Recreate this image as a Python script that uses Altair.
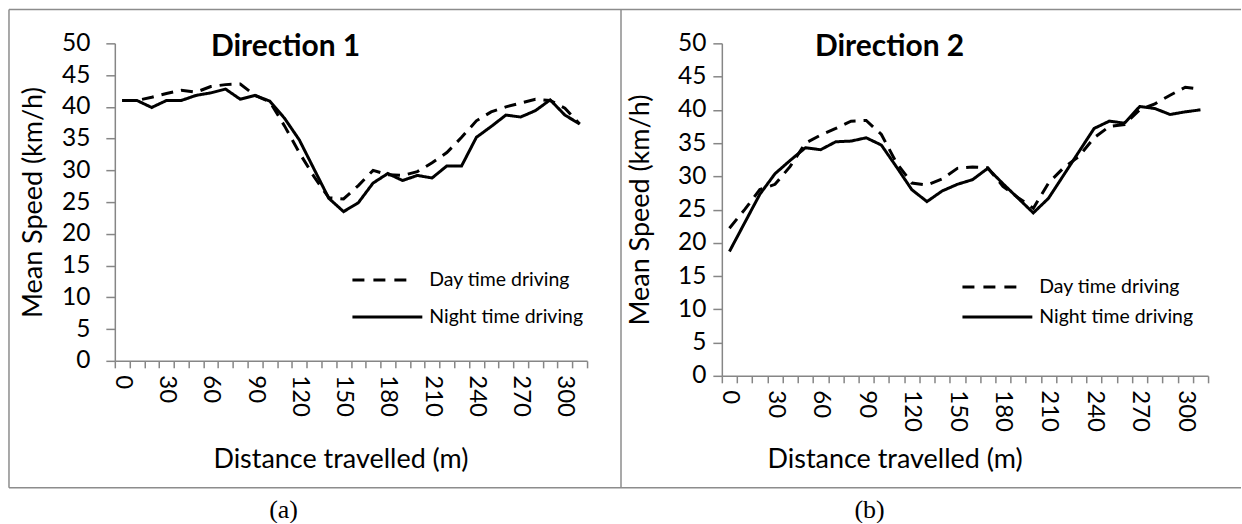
import altair as alt
import pandas as pd

# ---------------- data ----------------
distance = list(range(0, 320, 10))          # 32 categories, 0..310 m
series_names = ["Day time driving", "Night time driving"]

left_day = [41.0, 41.0, 41.5, 42.1, 42.6, 42.3, 43.2, 43.5, 43.6, 41.8,
            40.8, 37.0, 32.8, 29.0, 25.7, 25.5, 27.6, 30.0, 29.3, 29.2,
            29.8, 31.2, 32.8, 35.2, 37.8, 39.2, 40.0, 40.6, 41.2, 41.0,
            39.8, 37.3]
left_night = [41.0, 41.0, 39.9, 41.0, 41.0, 41.8, 42.2, 42.8, 41.2, 41.8,
              40.9, 38.2, 34.8, 30.2, 25.6, 23.5, 24.9, 28.0, 29.5, 28.4,
              29.2, 28.8, 30.7, 30.7, 35.2, 36.9, 38.7, 38.4, 39.4, 41.1,
              38.7, 37.3]
right_day = [22.2, 25.0, 28.0, 28.8, 31.5, 35.0, 36.2, 37.2, 38.3, 38.4,
             36.3, 32.0, 29.0, 28.7, 29.6, 31.2, 31.4, 31.3, 28.5, 26.8,
             25.2, 29.0, 31.3, 33.0, 35.8, 37.5, 37.8, 40.0, 40.9, 42.2,
             43.4, 43.1]
right_night = [18.7, 23.0, 27.3, 30.4, 32.4, 34.3, 34.0, 35.2, 35.3, 35.8,
               34.7, 31.4, 28.0, 26.2, 27.8, 28.8, 29.5, 31.2, 28.9, 26.7,
               24.5, 26.7, 30.2, 33.7, 37.2, 38.3, 38.0, 40.5, 40.2, 39.3,
               39.7, 40.0]

y_ticks = list(range(0, 55, 5))
x_tick_bounds = list(range(-5, 316, 10))

FONT = "Lato"
AXIS_GREY = "#868686"
BORDER = "#8c8c8c"


def long_df(day, night):
    rows = []
    for name, vals in zip(series_names, [day, night]):
        for d, v in zip(distance, vals):
            rows.append({"distance": d, "speed": v, "series": name})
    return pd.DataFrame(rows)


one = pd.DataFrame({"k": [0]})


def rule(x, y, x2=None, y2=None):
    enc = {"x": alt.value(x), "y": alt.value(y)}
    if x2 is not None:
        enc["x2"] = alt.value(x2)
    if y2 is not None:
        enc["y2"] = alt.value(y2)
    return alt.Chart(one).mark_rule(color=BORDER, strokeWidth=1.5).encode(**enc)


def text(s, x, y, size, weight="normal", font=FONT, align="center"):
    return alt.Chart(pd.DataFrame({"t": [s]})).mark_text(
        font=font, fontSize=size, fontWeight=weight, color="black",
        align=align, baseline="middle"
    ).encode(text="t:N", x=alt.value(x), y=alt.value(y))


def panel(day, night, W, H, title, title_x, caption, caption_x,
          xtitle_x, borders, leg_x, leg_y1, leg_y2, ylab_pad):
    cat = W / 32.0
    df = long_df(day, night)
    lines = alt.Chart(df).mark_line(color="black", strokeWidth=3).encode(
        x=alt.X("distance:Q",
                scale=alt.Scale(domain=[-5, 315], nice=False, zero=False),
                axis=alt.Axis(values=x_tick_bounds,
                              labelExpr="(datum.value + 5) % 30 == 0 ? format(datum.value + 5, 'd') : ''",
                              labelAngle=90, labelAlign="left", labelBaseline="middle",
                              labelOffset=cat / 2, labelFlush=False, labelOverlap=False,
                              tickSize=7, labelPadding=7, grid=False,
                              domainColor=AXIS_GREY, tickColor=AXIS_GREY,
                              domainWidth=1.5, tickWidth=1.5,
                              labelFont=FONT, labelFontSize=24, labelColor="black",
                              title="Distance travelled (m)", titleFont=FONT,
                              titleFontSize=27, titleFontWeight="normal",
                              titleColor="black", titleX=xtitle_x,
                              titleY=460 - (43 + H), titleBaseline="middle",
                              titleAlign="center")),
        y=alt.Y("speed:Q",
                scale=alt.Scale(domain=[0, 50], nice=False, zero=True),
                axis=alt.Axis(values=y_ticks, tickSize=9, labelPadding=ylab_pad,
                              grid=False, domainColor=AXIS_GREY, tickColor=AXIS_GREY,
                              domainWidth=1.5, tickWidth=1.5,
                              labelFont=FONT, labelFontSize=24.5, labelColor="black",
                              title="Mean Speed (km/h)", titleFont=FONT,
                              titleFontSize=27, titleFontWeight="normal",
                              titleColor="black", titleX=-81, titleY=H / 2,
                              titleBaseline="middle", titleAlign="center")),
        strokeDash=alt.StrokeDash("series:N",
                                  scale=alt.Scale(domain=series_names,
                                                  range=[[12, 8], [1, 0]]),
                                  legend=None),
    )
    layers = [lines]
    # legend (drawn manually)
    layers.append(alt.Chart(one).mark_rule(color="black", strokeWidth=3, strokeDash=[12, 9]).encode(
        x=alt.value(leg_x), x2=alt.value(leg_x + 58), y=alt.value(leg_y1)))
    layers.append(alt.Chart(one).mark_rule(color="black", strokeWidth=3).encode(
        x=alt.value(leg_x), x2=alt.value(leg_x + 70), y=alt.value(leg_y2)))
    layers.append(text(series_names[0], leg_x + 77, leg_y1, 19.5, align="left"))
    layers.append(text(series_names[1], leg_x + 77, leg_y2, 19.5, align="left"))
    # title and caption
    layers.append(text(title, title_x, 4, 30, weight="bold"))
    layers.append(text(caption, caption_x, 510 - 43, 26, font="Liberation Serif"))
    for b in borders:
        layers.append(rule(*b))
    return alt.layer(*layers).properties(width=W, height=H)


# left plot area: x 114..587, y 43..361.5 ; right: x 722..1209, y 43..376
LW, LH = 473, 318
RW, RH = 487, 333

left = panel(left_day, left_night, LW, LH, "Direction 1", 171, "(a)", 169,
             226,
             borders=[(-106, -34, None, 445),      # left border
                      (-106, -34, 507, None),      # top
                      (-106, 445, 507, None),      # bottom
                      (507, -34, None, 445)],      # middle divider
             leg_x=238, leg_y1=237, leg_y2=274, ylab_pad=16)

right = panel(right_day, right_night, RW, RH, "Direction 2", 168, "(b)", 148,
              173,
              borders=[(-101, -34, 520, None),
                       (-101, 445, 520, None)],
              leg_x=241, leg_y1=244, leg_y2=274, ylab_pad=7)

chart = alt.hconcat(left, right, spacing=135, bounds="flush").properties(
    padding={"left": 8, "top": 8, "right": 0, "bottom": 0},
    background="white",
).configure_view(strokeWidth=0)

chart.save("out.html", embed_options={"renderer": "svg", "actions": False})
